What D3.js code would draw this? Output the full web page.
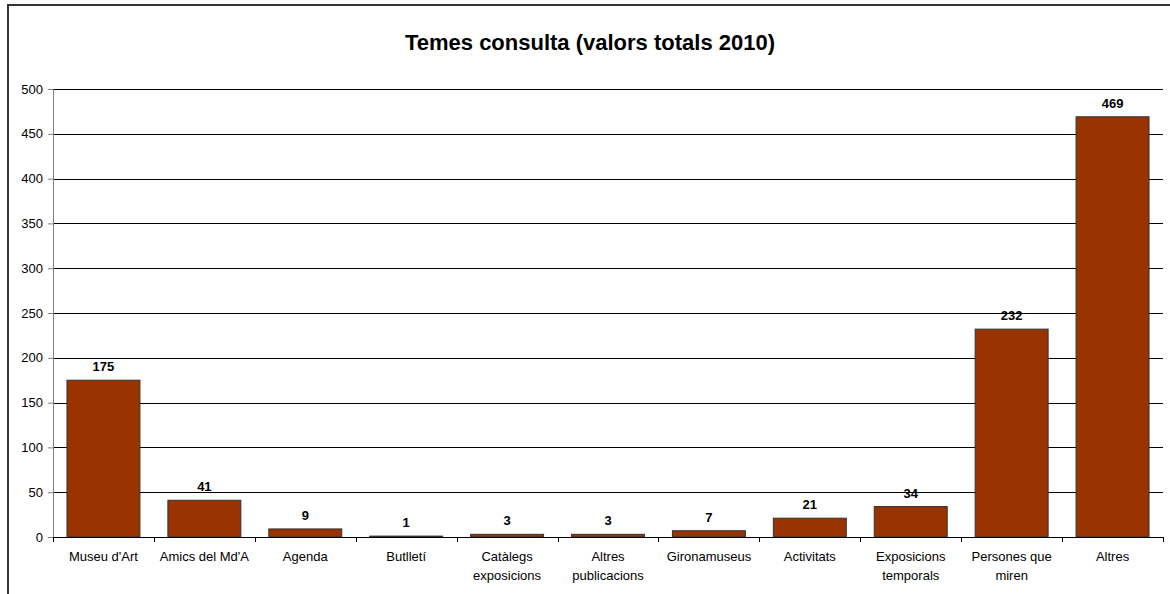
<!DOCTYPE html>
<html lang="ca">
<head>
    <meta charset="utf-8">
    <title>Temes consulta</title>
    <script src="https://d3js.org/d3.v7.min.js"></script>
    <style>
        body { margin: 0; background: #fff; }
        svg { display: block; font-family: "Liberation Sans", Arial, sans-serif; }
    </style>
</head>
<body>
<svg width="1170" height="594"></svg>
<script>
    // dades
    var categories = ["Museu d'Art", "Amics del Md'A", "Agenda", "Butlletí", "Catàlegs exposicions",
        "Altres publicacions", "Gironamuseus", "Activitats", "Exposicions temporals", "Persones que miren", "Altres"];
    var labelLines = [["Museu d'Art"], ["Amics del Md'A"], ["Agenda"], ["Butlletí"], ["Catàlegs", "exposicions"],
        ["Altres", "publicacions"], ["Gironamuseus"], ["Activitats"], ["Exposicions", "temporals"], ["Persones que", "miren"], ["Altres"]];
    var values = [175, 41, 9, 1, 3, 3, 7, 21, 34, 232, 469];
    var yTicks = [0, 50, 100, 150, 200, 250, 300, 350, 400, 450, 500];
    var title = "Temes consulta (valors totals 2010)";

    var marge = {top: 89, bottom: 57, left: 53, right: 7};
    var W = 1170, H = 594;
    var svg = d3.select("svg");

    // marc exterior
    svg.append("rect")
        .attr("x", 8).attr("y", 5)
        .attr("width", 1180).attr("height", 620)
        .attr("fill", "none")
        .attr("stroke", "#333")
        .attr("stroke-width", 2);

    svg.append("text")
        .attr("x", 590).attr("y", 50)
        .attr("text-anchor", "middle")
        .attr("font-size", "22px")
        .attr("font-weight", "bold")
        .text(title);

    var innerW = W - marge.left - marge.right;
    var innerH = H - marge.top - marge.bottom;

    var x = d3.scaleBand()
        .domain(categories)
        .range([0, innerW])
        .paddingInner(0.277)
        .paddingOuter(0.1385);

    var y = d3.scaleLinear()
        .domain([0, 500])
        .range([innerH, 0]);

    var g = svg.append("g")
        .attr("transform", "translate(" + marge.left + "," + marge.top + ")");

    // línies de graella
    g.selectAll(".grid")
        .data(yTicks.slice(1))
        .enter()
        .append("line")
        .attr("x1", 0).attr("x2", innerW)
        .attr("y1", function(d){ return Math.round(y(d)) + 0.5; })
        .attr("y2", function(d){ return Math.round(y(d)) + 0.5; })
        .attr("stroke", "#000")
        .attr("stroke-width", 1);

    // eix Y
    var yAxis = g.append("g")
        .call(d3.axisLeft(y).tickValues(yTicks).tickSize(5).tickPadding(5));
    yAxis.select(".domain").attr("stroke", "#808080");
    yAxis.selectAll(".tick line").attr("stroke", "#808080");
    yAxis.selectAll("text").attr("font-size", "13px").attr("fill", "#000")
        .attr("font-family", "'Liberation Sans', Arial, sans-serif");

    // barres
    g.selectAll("rect.bar")
        .data(values)
        .enter()
        .append("rect")
        .attr("class", "bar")
        .attr("x", function(d, i){ return x(categories[i]); })
        .attr("y", function(d){ return y(d); })
        .attr("width", x.bandwidth())
        .attr("height", function(d){ return innerH - y(d); })
        .attr("fill", "#993300")
        .attr("stroke", "#333")
        .attr("stroke-width", 1);

    // valors
    g.selectAll("text.val")
        .data(values)
        .enter()
        .append("text")
        .attr("class", "val")
        .attr("x", function(d, i){ return x(categories[i]) + x.bandwidth() / 2; })
        .attr("y", function(d){ return y(d) - 9; })
        .attr("text-anchor", "middle")
        .attr("font-size", "13px")
        .attr("font-weight", "bold")
        .text(function(d){ return d; });

    // eix X
    var step = x.step();
    var xa = g.append("g").attr("transform", "translate(0," + innerH + ")");
    xa.append("line")
        .attr("x1", 0).attr("x2", innerW)
        .attr("y1", 0.5).attr("y2", 0.5)
        .attr("stroke", "#000");
    xa.selectAll(".tk")
        .data(d3.range(categories.length + 1))
        .enter()
        .append("line")
        .attr("x1", function(i){ return Math.round(i * step) + 0.5; })
        .attr("x2", function(i){ return Math.round(i * step) + 0.5; })
        .attr("y1", 0).attr("y2", 5)
        .attr("stroke", "#000");

    var lab = xa.selectAll(".cat")
        .data(labelLines)
        .enter()
        .append("text")
        .attr("class", "cat")
        .attr("text-anchor", "middle")
        .attr("font-size", "13px")
        .attr("transform", function(d, i){
            return "translate(" + (x(categories[i]) + x.bandwidth() / 2) + ",0)";
        });
    lab.selectAll("tspan")
        .data(function(d){ return d; })
        .enter()
        .append("tspan")
        .attr("x", 0)
        .attr("y", function(d, j){ return 24 + j * 19; })
        .text(function(d){ return d; });
</script>
</body>
</html>
